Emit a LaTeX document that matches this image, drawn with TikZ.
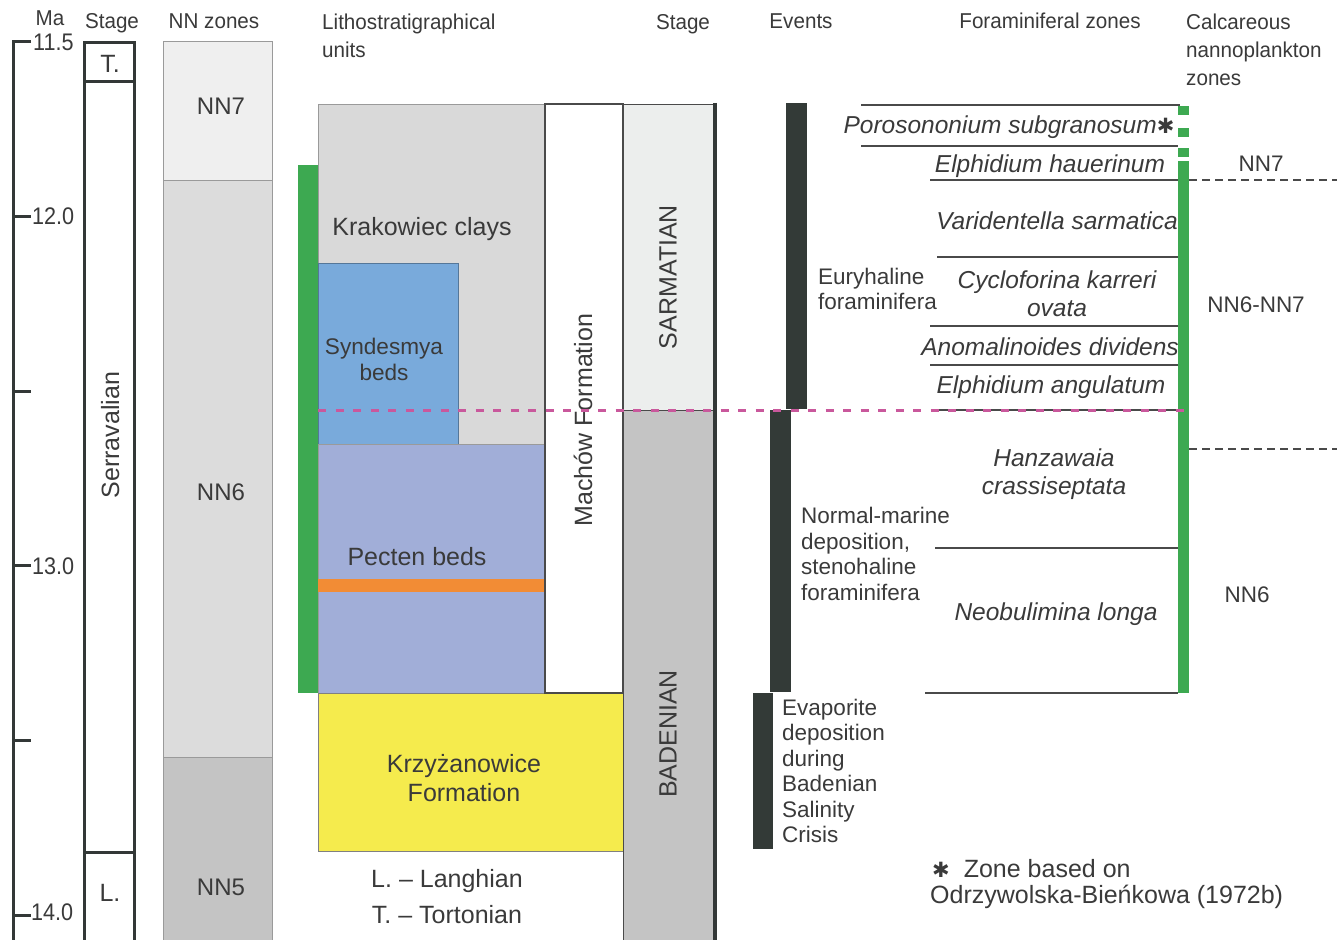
\documentclass[tikz,border=0pt]{standalone}
\usepackage{fontspec}
\setmainfont{Liberation Sans}
\newfontfamily\symfont{DejaVu Sans}
\usepackage{tikz}
\usetikzlibrary{positioning}

\definecolor{txt}{HTML}{3A3A3A}
\definecolor{axis}{HTML}{333837}
\definecolor{edge}{HTML}{9A9A9A}
\definecolor{nnA}{HTML}{EFEFEF}
\definecolor{nnB}{HTML}{DCDCDC}
\definecolor{nnC}{HTML}{C4C4C4}
\definecolor{krak}{HTML}{D9D9D9}
\definecolor{synd}{HTML}{79AADB}
\definecolor{pect}{HTML}{A1AED8}
\definecolor{orng}{HTML}{F28C35}
\definecolor{yell}{HTML}{F5EB4D}
\definecolor{grn}{HTML}{3DA951}
\definecolor{sarm}{HTML}{ECEEED}
\definecolor{evbar}{HTML}{333A37}
\definecolor{pink}{HTML}{C9589C}
\definecolor{zl}{HTML}{4A4A4A}

\newcommand{\starsym}{{\upshape\symfont\fontsize{21}{21}\selectfont\raisebox{0pt}{✱}}}

\tikzset{
  hdr/.style={font=\fontsize{21.5}{28}\selectfont, text=txt, inner sep=0pt, text depth=0pt, align=left, xscale=0.96, transform shape},
  big/.style={font=\fontsize{25}{29}\selectfont, text=txt, inner sep=0pt, text depth=0pt, align=center},
  agelbl/.style={font=\fontsize{24}{24}\selectfont, text=txt, inner sep=0pt, text depth=0pt, xscale=0.9, transform shape},
  evt/.style={font=\fontsize{22.5}{25.5}\selectfont, text=txt, inner sep=0pt, text depth=0pt, align=left},
  spc/.style={font=\fontsize{24.5}{28}\selectfont\itshape, text=txt, inner sep=0pt, text depth=0pt, align=center},
  nn/.style={font=\fontsize{22.5}{27}\selectfont, text=txt, inner sep=0pt, text depth=0pt},
  axisline/.style={line width=3pt, draw=axis},
  unitbox/.style={draw=edge, line width=0.8pt},
  zoneline/.style={draw=zl, line width=1.3pt},
  zonedash/.style={draw=zl, line width=1.2pt, dash pattern=on 8pt off 5pt},
  bound/.style={draw=pink, line width=3pt, dash pattern=on 8pt off 9.5pt},
}

\begin{document}
\begin{tikzpicture}[x=1pt,y=-1pt]
\useasboundingbox (0,0) rectangle (1337,939);

% headers
\node[hdr] (hMa) at (50,18.5) {Ma};
\node[hdr] (hStage) at (112,21) {Stage};
\node[hdr] (hNN) at (214,21) {NN zones};
\node[hdr, anchor=west] (hLitho) at (322,36) {Lithostratigraphical\\units};
\node[hdr] (hStageB) at (683,22) {Stage};
\node[hdr] (hEvents) at (801,21) {Events};
\node[hdr] (hForam) at (1050,21) {Foraminiferal zones};
\node[hdr, anchor=west] (hNanno) at (1186,50) {Calcareous\\nannoplankton\\zones};

% age axis
\draw[axisline, line join=miter] (31,42) -- (13.5,42) -- (13.5,941);
\foreach \i in {1,...,5}
  \draw[axisline] (12,42+174.6*\i) -- (31,42+174.6*\i);
\node[agelbl, anchor=west] (a115) at (33,42) {11.5};
\node[agelbl, anchor=west] (a120) at (32,216) {12.0};
\node[agelbl, anchor=west] (a130) at (32,566) {13.0};
\node[agelbl, anchor=west] (a140) at (31,912) {14.0};

% stage column
\draw[axisline] (84.5,941) -- (84.5,42.5) -- (134,42.5) -- (134,941);
\draw[axisline] (84.5,81.5) -- (134,81.5);
\draw[axisline] (84.5,852) -- (134,852);
\node[big] (sT) at (110,64) {T.};
\node[big, rotate=90] (sSerr) at (110,435) {Serravalian};
\node[big] (sL) at (110,893) {L.};

% NN zones
\filldraw[unitbox, fill=nnA] (163,41) rectangle (272,180);
\filldraw[unitbox, fill=nnB] (163,180) rectangle (272,757);
\filldraw[unitbox, fill=nnC] (163,757) rectangle (272,941);
\node[big, font=\fontsize{24}{24}\selectfont] (zNN7) at (221,106) {NN7};
\node[big, font=\fontsize{24}{24}\selectfont] (zNN6) at (221,492) {NN6};
\node[big, font=\fontsize{24}{24}\selectfont] (zNN5) at (221,887) {NN5};

% lithostratigraphy
\filldraw[unitbox, fill=krak] (318,104) rectangle (545,444);
\filldraw[draw=synd!70!black, line width=0.8pt, fill=synd] (318,263) rectangle (458,444);
\filldraw[unitbox, fill=pect] (318,444) rectangle (545,693);
\fill[orng] (318,579) rectangle (545,592);
\filldraw[unitbox, draw=gray, fill=yell] (318,693) rectangle (623,851);
\filldraw[draw=zl, line width=1.6pt, fill=white] (545,104) rectangle (623,693);
\fill[grn] (298,165) rectangle (318,693);
\node[big] (uKrak) at (422,226) {Krakowiec clays};
\node[big, font=\fontsize{22.6}{26}\selectfont] (uSynd) at (384,359) {Syndesmya\\beds};
\node[big] (uPect) at (417,556) {Pecten beds};
\node[big] (uKrzy) at (464,778) {Krzyżanowice\\Formation};
\node[big, rotate=90] (uMach) at (583,420) {Machów Formation};
\node[big, font=\fontsize{25}{36}\selectfont] (legend) at (447,896) {L. – Langhian\\T. – Tortonian};

% stage column 2
\filldraw[unitbox, draw=zl] (623,104) rectangle (714,410);
\fill[sarm] (624,105) rectangle (713,409.5);
\filldraw[unitbox, draw=zl, fill=nnC] (623,410) rectangle (714,941);
\draw[line width=4pt, draw=axis] (715,103) -- (715,941);
\node[big, rotate=90] (stSarm) at (668,277) {SARMATIAN};
\node[big, rotate=90] (stBad) at (668,734) {BADENIAN};

% events
\fill[evbar] (786,103) rectangle (807,409);
\fill[evbar] (770,410) rectangle (791,692);
\fill[evbar] (753,693) rectangle (773,849);
\node[evt, anchor=west] (eEury) at (818,289) {Euryhaline\\foraminifera};
\node[evt, anchor=west] (eNorm) at (801,554) {Normal-marine\\deposition,\\stenohaline\\foraminifera};
\node[evt, anchor=west] (eEvap) at (782,771) {Evaporite\\deposition\\during\\Badenian\\Salinity\\Crisis};

% foraminiferal zones
\draw[zoneline] (861,105) -- (1180,105);
\draw[zoneline] (861,146) -- (1178,146);
\draw[zoneline] (930,180) -- (1180,180);
\draw[zoneline] (937,257) -- (1178,257);
\draw[zoneline] (930,326) -- (1178,326);
\draw[zoneline] (930,365) -- (1178,365);
\draw[zoneline] (934,410) -- (1178,410);
\draw[zoneline] (935,548) -- (1178,548);
\draw[zoneline] (925,693) -- (1178,693);
\node[spc] (fPoro) at (1009,125) {Porosononium subgranosum\starsym};
\node[spc] (fHaue) at (1050,164) {Elphidium hauerinum};
\node[spc] (fVari) at (1057,221) {Varidentella sarmatica};
\node[spc] (fCycl) at (1057,294) {Cycloforina karreri\\ovata};
\node[spc] (fAnom) at (1050,347) {Anomalinoides dividens};
\node[spc] (fAngu) at (1051,385) {Elphidium angulatum};
\node[spc] (fHanz) at (1054,472) {Hanzawaia\\crassiseptata};
\node[spc] (fNeob) at (1056,612) {Neobulimina longa};

% nannoplankton zones
\fill[grn] (1178,106) rectangle (1189,115);
\fill[grn] (1178,128) rectangle (1189,137);
\fill[grn] (1178,148) rectangle (1189,157);
\fill[grn] (1178,161) rectangle (1189,693);
\draw[zonedash] (1189,180) -- (1337,180);
\draw[zonedash] (1189,449) -- (1337,449);
\node[nn] (nNN7) at (1261,164) {NN7};
\node[nn] (nNN67) at (1256,305) {NN6-NN7};
\node[nn] (nNN6) at (1247,595) {NN6};

% Sarmatian/Badenian boundary
\draw[bound] (318,410.5) -- (1190,410.5);

\node[big, align=left, anchor=west] (fnote) at (930,881)
  {\hspace*{2pt}\starsym\hspace{14pt}Zone based on\\[-3pt]Odrzywolska-Bieńkowa (1972b)};
\end{tikzpicture}
\end{document}
